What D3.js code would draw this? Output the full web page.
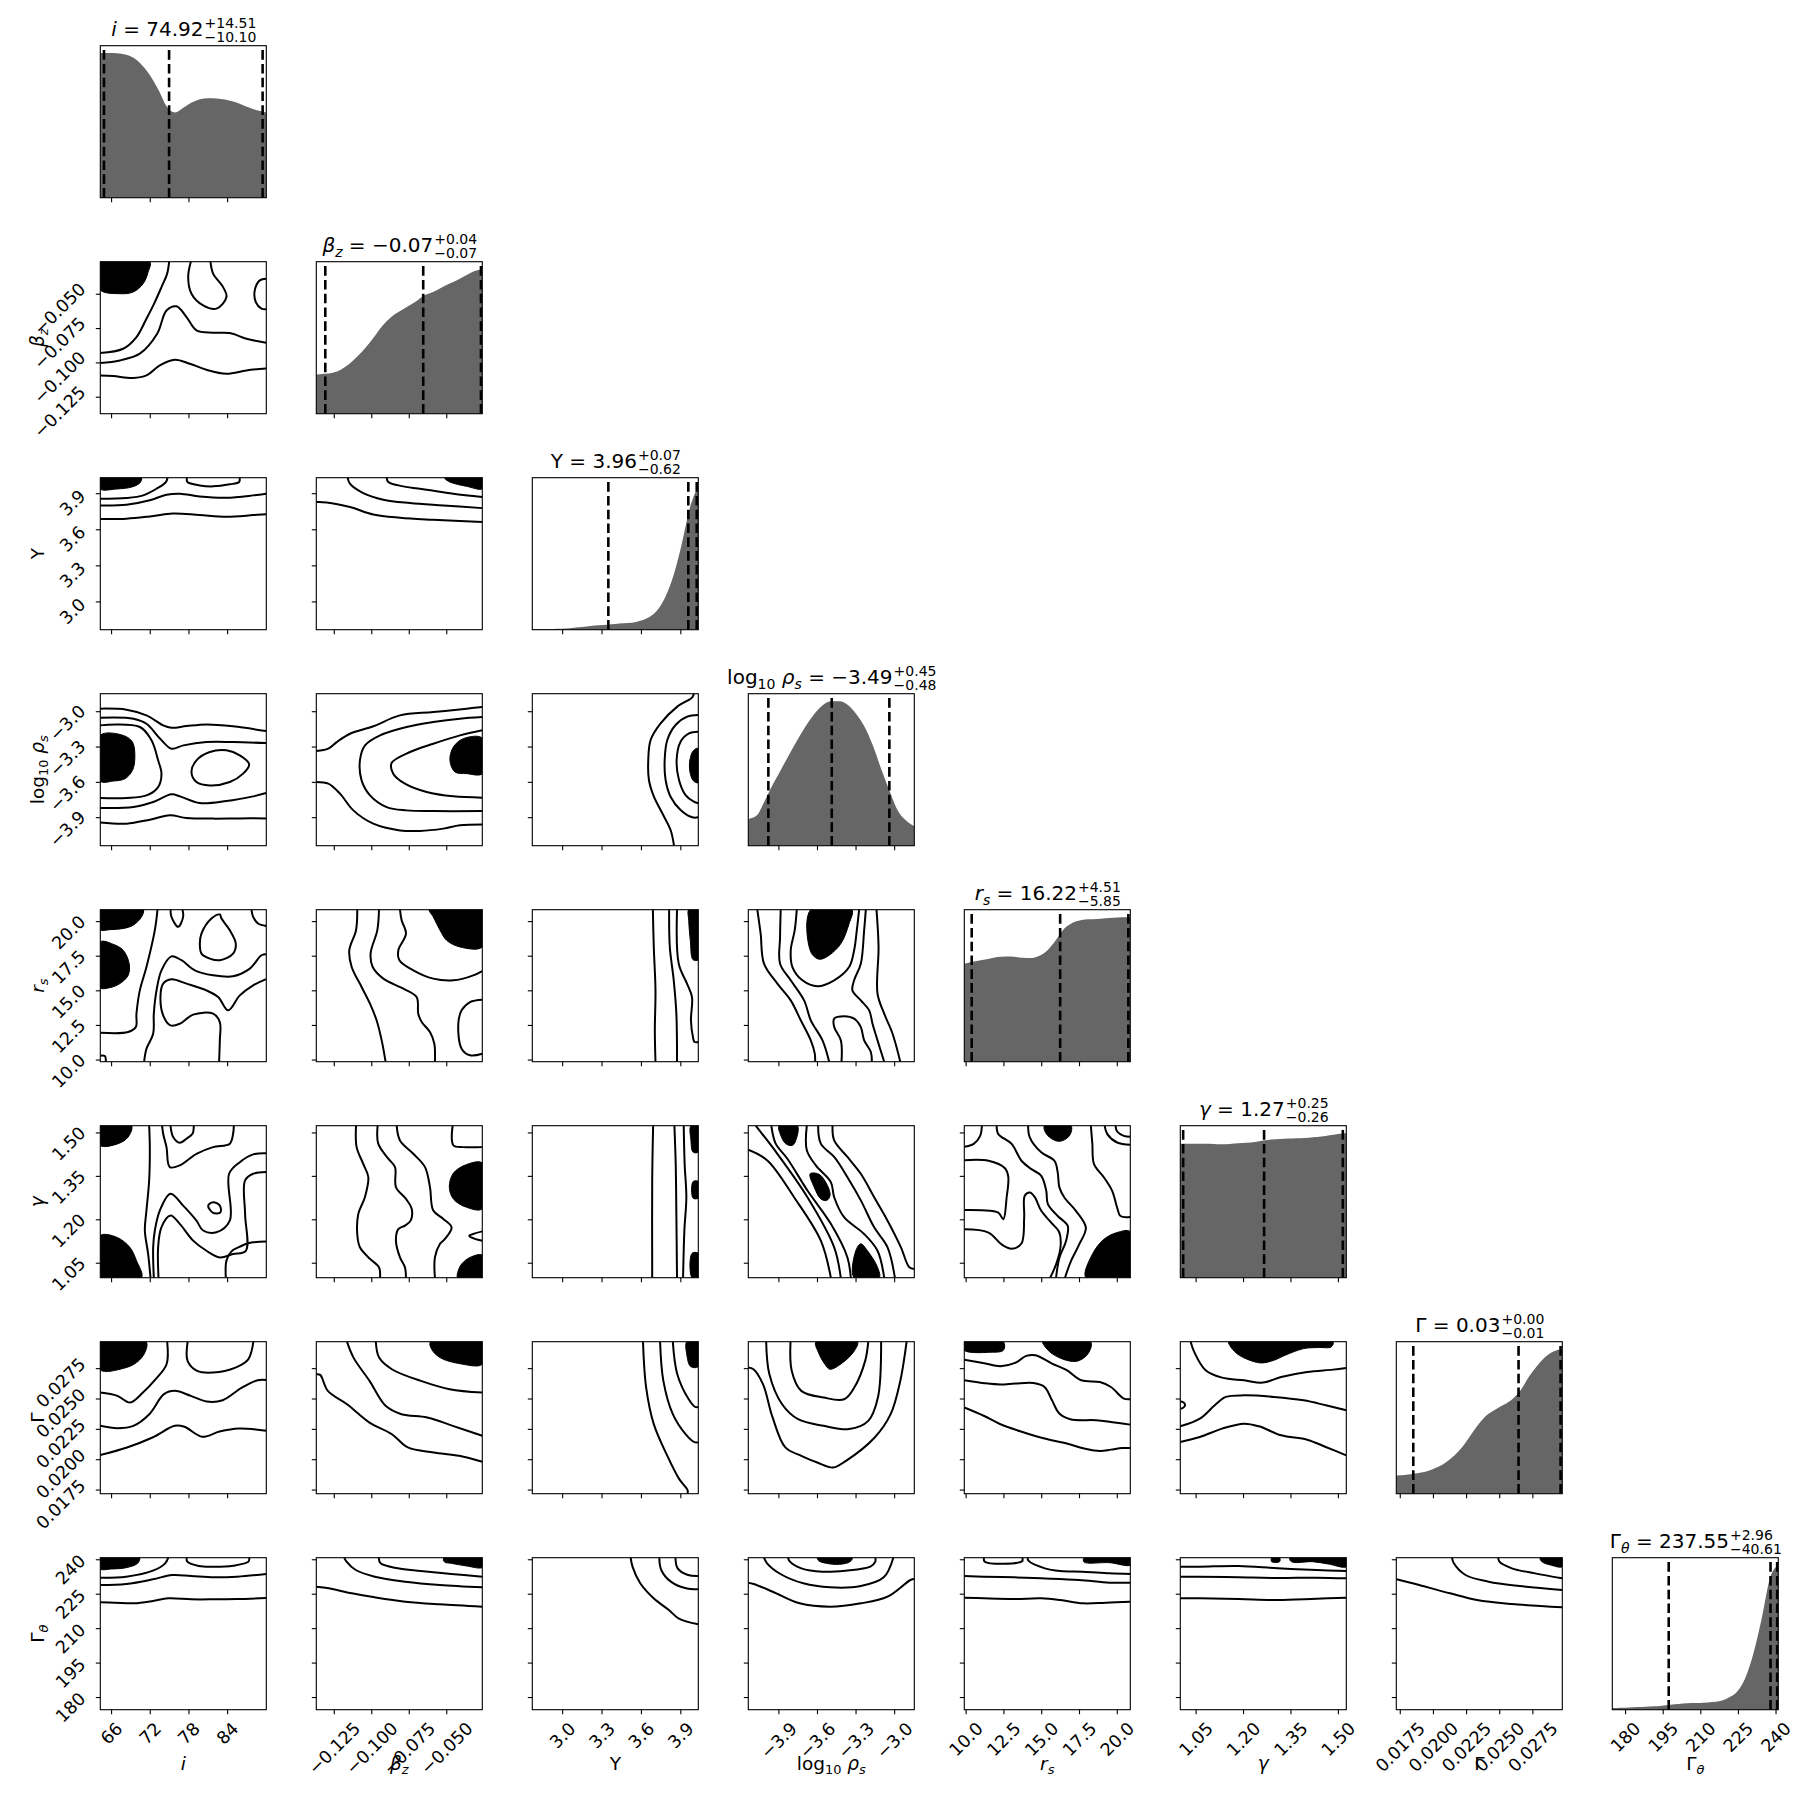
<!DOCTYPE html>
<html>
<head>
<meta charset="utf-8">
<script src="https://cdn.jsdelivr.net/npm/d3@7"></script>
<style>
  body { margin: 0; background: #fff; }
  text { font-family: "DejaVu Sans", sans-serif; fill: #000; }
</style>
</head>
<body>
<div id="chart"></div>
<script>
// ---- parameters (order of the corner plot) ----
const paramKeys = ["i", "beta", "Y", "rho", "r", "gamma", "G", "Gt"]
const paramRanges = [[64.25, 90.0], [-0.137, -0.0263], [2.769, 4.033], [-4.138, -2.847],
  [9.88, 20.86], [1.0, 1.525], [0.0172, 0.02972], [174.7, 240.9]]
const paramTicks = [
  [66, 72, 78, 84],
  [-0.125, -0.100, -0.075, -0.050],
  [3.0, 3.3, 3.6, 3.9],
  [-3.9, -3.6, -3.3, -3.0],
  [10.0, 12.5, 15.0, 17.5, 20.0],
  [1.05, 1.20, 1.35, 1.50],
  [0.0175, 0.0200, 0.0225, 0.0250, 0.0275],
  [180, 195, 210, 225, 240]
]
const paramTickLabels = [
  ["66", "72", "78", "84"],
  ["−0.125", "−0.100", "−0.075", "−0.050"],
  ["3.0", "3.3", "3.6", "3.9"],
  ["−3.9", "−3.6", "−3.3", "−3.0"],
  ["10.0", "12.5", "15.0", "17.5", "20.0"],
  ["1.05", "1.20", "1.35", "1.50"],
  ["0.0175", "0.0200", "0.0225", "0.0250", "0.0275"],
  ["180", "195", "210", "225", "240"]
]
// label pieces: [text, style] ; "i" italic, "s" italic subscript, "S" upright subscript
const paramLabels = [
  [["i", "i"]],
  [["β", "i"], ["z", "s"]],
  [["Y", ""]],
  [["log", ""], ["10", "S"], [" ", ""], ["ρ", "i"], ["s", "s"]],
  [["r", "i"], ["s", "s"]],
  [["γ", "i"]],
  [["Γ", ""]],
  [["Γ", ""], ["θ", "s"]]
]

// ---- 1D summaries ----
const titleValues = ["74.92", "−0.07", "3.96", "−3.49", "16.22", "1.27", "0.03", "237.55"]
const titlePlus = ["+14.51", "+0.04", "+0.07", "+0.45", "+4.51", "+0.25", "+0.00", "+2.96"]
const titleMinus = ["−10.10", "−0.07", "−0.62", "−0.48", "−5.85", "−0.26", "−0.01", "−40.61"]
const quantiles = [
  [64.82, 74.92, 89.43],
  [-0.131, -0.0657, -0.0272],
  [3.348, 3.957, 4.021],
  [-3.982, -3.489, -3.041],
  [10.37, 16.22, 20.73],
  [1.009, 1.265, 1.514],
  [0.01848, 0.02642, 0.02959],
  [197.2, 237.8, 240.45]
]

// ---- marginal histograms (relative height, evenly spaced across each range) ----
const histI = [1.0, 1.0, 0.998, 0.989, 0.966, 0.917, 0.844, 0.745, 0.630, 0.589, 0.621, 0.657, 0.680, 0.687, 0.685, 0.678, 0.664, 0.644, 0.621, 0.602, 0.589]
const histBeta = [0.271, 0.276, 0.283, 0.306, 0.345, 0.398, 0.460, 0.533, 0.609, 0.667, 0.706, 0.740, 0.775, 0.816, 0.839, 0.869, 0.897, 0.924, 0.954, 0.984, 0.998]
const histY = [0.005, 0.005, 0.005, 0.007, 0.009, 0.014, 0.018, 0.025, 0.030, 0.034, 0.039, 0.044, 0.048, 0.062, 0.085, 0.131, 0.223, 0.372, 0.591, 0.844, 0.993]
const histRho = [0.185, 0.208, 0.313, 0.428, 0.532, 0.637, 0.738, 0.833, 0.914, 0.972, 0.998, 0.998, 0.972, 0.910, 0.822, 0.694, 0.532, 0.382, 0.243, 0.174, 0.134]
const histR = [0.677, 0.691, 0.700, 0.711, 0.723, 0.727, 0.725, 0.718, 0.716, 0.730, 0.769, 0.838, 0.917, 0.958, 0.977, 0.984, 0.986, 0.991, 0.995, 0.998, 1.0]
const histGamma = [0.926, 0.926, 0.926, 0.926, 0.924, 0.921, 0.924, 0.928, 0.933, 0.938, 0.947, 0.954, 0.958, 0.961, 0.963, 0.965, 0.970, 0.975, 0.984, 0.993, 1.0]
const histG = [0.126, 0.129, 0.138, 0.147, 0.161, 0.184, 0.218, 0.264, 0.326, 0.407, 0.487, 0.547, 0.584, 0.616, 0.655, 0.717, 0.809, 0.885, 0.947, 0.984, 1.0]
const histGt = [0.012, 0.014, 0.016, 0.018, 0.021, 0.023, 0.028, 0.035, 0.039, 0.044, 0.046, 0.048, 0.053, 0.060, 0.083, 0.122, 0.215, 0.388, 0.630, 0.908, 1.0]
const histValues = [histI, histBeta, histY, histRho, histR, histGamma, histG, histGt]

// ---- 2D contours, points in data units [x param, y param] ----
const cBetaI = {
  fills: [[[64.23, -0.0263], [71.93, -0.0263], [71.67, -0.0338], [70.90, -0.0423], [69.35, -0.0484], [67.28, -0.0496], [64.23, -0.0467]]],
  lines: [
    [[74.93, -0.0263], [74.62, -0.0350], [73.74, -0.0448], [72.71, -0.0557], [71.41, -0.0678], [69.86, -0.0812], [67.80, -0.0897], [64.23, -0.0928]],
    [[78.29, -0.0263], [77.88, -0.0375], [78.39, -0.0496], [80.20, -0.0581], [82.27, -0.0605], [83.82, -0.0520], [83.30, -0.0448], [81.75, -0.0350], [81.34, -0.0263]],
    [[89.97, -0.0387], [88.99, -0.0399], [88.21, -0.0472], [88.37, -0.0557], [89.25, -0.0605], [89.97, -0.0610]],
    [[64.23, -0.1001], [67.28, -0.0982], [70.38, -0.0933], [73.07, -0.0788], [74.52, -0.0618], [76.07, -0.0588], [77.62, -0.0666], [79.17, -0.0763], [81.75, -0.0780], [84.34, -0.0783], [86.92, -0.0824], [89.97, -0.0853]],
    [[64.23, -0.1091], [66.25, -0.1096], [69.35, -0.1110], [71.41, -0.1091], [73.48, -0.1018], [75.81, -0.0977], [78.13, -0.1006], [80.72, -0.1050], [83.82, -0.1079], [86.92, -0.1055], [89.97, -0.1040]]
  ],
  loops: []
}
const cYI = {
  fills: [[[64.23, 4.033], [70.64, 4.033], [70.38, 3.989], [69.10, 3.955], [66.76, 3.939], [64.23, 3.939]]],
  lines: [
    [[74.68, 4.033], [74.42, 3.997], [72.96, 3.941], [70.90, 3.886], [68.32, 3.864], [64.23, 3.858]],
    [[77.67, 4.033], [77.77, 3.997], [79.67, 3.969], [81.76, 3.961], [84.34, 3.978], [85.78, 3.997], [85.88, 4.033]],
    [[64.23, 3.802], [68.32, 3.808], [71.93, 3.845], [74.52, 3.891], [76.59, 3.900], [79.67, 3.877], [83.82, 3.866], [87.96, 3.886], [89.97, 3.900]],
    [[64.23, 3.689], [68.32, 3.692], [71.93, 3.711], [75.55, 3.736], [79.67, 3.722], [83.82, 3.708], [87.96, 3.722], [89.97, 3.730]]
  ],
  loops: []
}
const cYBeta = {
  fills: [[[-0.0512, 4.033], [-0.0263, 4.033], [-0.0263, 3.941], [-0.0367, 3.961], [-0.0479, 3.997], [-0.0512, 4.025]]],
  lines: [
    [[-0.0901, 4.033], [-0.0890, 3.997], [-0.0790, 3.961], [-0.0634, 3.933], [-0.0457, 3.900], [-0.0263, 3.872]],
    [[-0.1161, 4.033], [-0.1146, 3.983], [-0.1057, 3.905], [-0.0923, 3.850], [-0.0745, 3.822], [-0.0523, 3.802], [-0.0263, 3.780]],
    [[-0.137, 3.830], [-0.1301, 3.827], [-0.1146, 3.789], [-0.0990, 3.727], [-0.0812, 3.700], [-0.0590, 3.683], [-0.0263, 3.664]]
  ],
  loops: []
}
const cRhoI = {
  fills: [[[64.23, -3.201], [67.80, -3.201], [69.24, -3.258], [69.61, -3.385], [69.24, -3.498], [68.07, -3.569], [66.25, -3.589], [64.23, -3.589]]],
  lines: [
    [[64.23, -3.116], [70.38, -3.130], [72.19, -3.243], [73.22, -3.413], [73.74, -3.526], [73.22, -3.640], [71.41, -3.711], [68.32, -3.733], [64.23, -3.733]],
    [[64.23, -2.974], [68.32, -2.983], [71.41, -3.031], [74.0, -3.116], [75.29, -3.136], [77.62, -3.122], [80.72, -3.108], [84.85, -3.124], [89.97, -3.164]],
    [[64.23, -3.051], [69.40, -3.059], [71.41, -3.102], [73.53, -3.229], [75.29, -3.314], [77.15, -3.286], [80.72, -3.258], [84.85, -3.258], [89.97, -3.266]],
    [[64.23, -3.818], [69.40, -3.810], [72.45, -3.767], [75.29, -3.702], [76.63, -3.719], [79.68, -3.776], [83.82, -3.759], [87.95, -3.719], [89.97, -3.691]],
    [[64.23, -3.940], [68.32, -3.951], [71.93, -3.917], [75.03, -3.880], [77.62, -3.903], [81.75, -3.908], [85.89, -3.906], [89.97, -3.906]]
  ],
  loops: [[[78.39, -3.512], [79.17, -3.413], [81.24, -3.342], [83.82, -3.328], [85.89, -3.371], [87.34, -3.447], [86.40, -3.526], [84.34, -3.597], [81.24, -3.626], [79.17, -3.597]]]
}
const cRhoBeta = {
  fills: [[[-0.0263, -3.224], [-0.0390, -3.229], [-0.0456, -3.300], [-0.0479, -3.413], [-0.0445, -3.512], [-0.0367, -3.526], [-0.0263, -3.526]]],
  lines: [
    [[-0.137, -3.334], [-0.129, -3.314], [-0.1234, -3.258], [-0.1145, -3.187], [-0.099, -3.124], [-0.0812, -3.031], [-0.059, -3.003], [-0.0367, -2.974], [-0.0263, -2.960]],
    [[-0.0263, -3.045], [-0.0412, -3.059], [-0.059, -3.088], [-0.0768, -3.130], [-0.0945, -3.201], [-0.1045, -3.286], [-0.1079, -3.413], [-0.1068, -3.583], [-0.1012, -3.710], [-0.0901, -3.810], [-0.0768, -3.838], [-0.059, -3.844], [-0.0263, -3.844]],
    [[-0.0263, -3.158], [-0.0412, -3.201], [-0.059, -3.272], [-0.0745, -3.342], [-0.0868, -3.436], [-0.0857, -3.526], [-0.0779, -3.611], [-0.0634, -3.682], [-0.0456, -3.719], [-0.0263, -3.730]],
    [[-0.137, -3.597], [-0.129, -3.611], [-0.1212, -3.696], [-0.1123, -3.838], [-0.099, -3.951], [-0.0812, -4.008], [-0.0679, -4.013], [-0.0523, -3.993], [-0.0412, -3.965], [-0.0263, -3.957]]
  ],
  loops: []
}
const cRhoY = {
  fills: [[[4.033, -3.311], [3.995, -3.331], [3.969, -3.410], [3.969, -3.509], [3.995, -3.586], [4.033, -3.603]]],
  lines: [
    [[3.999, -2.847], [3.987, -2.878], [3.873, -2.957], [3.746, -3.099], [3.670, -3.240], [3.652, -3.410], [3.657, -3.580], [3.695, -3.722], [3.759, -3.863], [3.822, -4.005], [3.848, -4.138]],
    [[4.033, -3.028], [3.949, -3.042], [3.860, -3.113], [3.797, -3.240], [3.777, -3.410], [3.784, -3.580], [3.822, -3.722], [3.898, -3.835], [3.987, -3.897], [4.033, -3.897]],
    [[4.033, -3.170], [3.962, -3.184], [3.898, -3.255], [3.868, -3.410], [3.886, -3.580], [3.936, -3.708], [3.999, -3.764], [4.033, -3.778]]
  ],
  loops: []
}
const cRI = {
  fills: [
    [[64.23, 20.87], [70.90, 20.87], [70.64, 20.34], [69.35, 19.74], [67.80, 19.50], [65.73, 19.42], [64.23, 19.42]],
    [[64.23, 18.53], [66.25, 18.36], [67.80, 17.93], [68.73, 16.96], [68.57, 16.12], [67.28, 15.52], [65.73, 15.23], [64.23, 15.23]]
  ],
  lines: [
    [[64.23, 10.31], [64.95, 10.29], [65.11, 9.88]],
    [[73.12, 20.87], [72.71, 19.38], [71.41, 16.72], [70.38, 15.03], [69.86, 13.35], [69.76, 12.38], [68.57, 12.02], [64.23, 11.97]],
    [[71.05, 9.88], [71.41, 10.82], [72.45, 11.90], [72.55, 13.35], [72.97, 15.03], [73.74, 16.48], [75.29, 17.49], [76.84, 17.21], [78.91, 16.48], [81.75, 16.12], [84.85, 16.05], [87.44, 16.60], [89.25, 17.57], [89.97, 17.64]],
    [[82.68, 9.88], [82.79, 11.42], [82.79, 12.74], [81.75, 13.35], [78.65, 13.28], [76.58, 12.62], [75.14, 12.50], [74.0, 13.23], [73.59, 14.67], [74.0, 15.52], [75.29, 15.83], [77.62, 15.52], [80.72, 15.03], [82.53, 14.55], [84.08, 13.59], [85.89, 14.67], [87.96, 15.40], [89.97, 15.85]],
    [[75.14, 20.87], [75.29, 20.34], [76.33, 19.62], [77.10, 20.34], [77.0, 20.87]],
    [[87.70, 20.87], [87.96, 20.34], [88.73, 19.86], [89.97, 19.69]]
  ],
  loops: [[[79.69, 18.41], [79.94, 19.13], [81.49, 20.22], [82.79, 20.51], [83.05, 20.22], [84.34, 19.38], [85.27, 18.41], [84.85, 17.69], [82.79, 17.21], [81.24, 17.33], [79.94, 17.69]]]
}
const cRBeta = {
  fills: [[[-0.0616, 20.87], [-0.0263, 20.87], [-0.0263, 18.17], [-0.0412, 18.17], [-0.0501, 18.65], [-0.0545, 19.38], [-0.0590, 20.34]]],
  lines: [
    [[-0.1097, 20.87], [-0.1105, 19.38], [-0.1150, 17.93], [-0.1134, 16.72], [-0.1068, 15.28], [-0.1012, 14.07], [-0.0968, 12.87], [-0.0934, 11.42], [-0.0908, 9.88]],
    [[-0.0952, 20.87], [-0.0963, 19.38], [-0.1008, 17.69], [-0.0994, 16.72], [-0.0923, 15.88], [-0.0790, 15.16], [-0.0701, 14.55], [-0.0690, 13.35], [-0.0667, 12.74], [-0.0612, 12.02], [-0.0583, 11.18], [-0.0579, 9.88]],
    [[-0.0812, 20.87], [-0.0801, 20.10], [-0.0772, 19.13], [-0.0823, 17.93], [-0.0816, 17.21], [-0.0723, 16.48], [-0.0590, 15.88], [-0.0456, 15.76], [-0.0323, 16.12], [-0.0263, 16.43]],
    [[-0.0263, 14.36], [-0.0345, 14.19], [-0.0401, 13.59], [-0.0423, 12.62], [-0.0401, 10.82], [-0.0345, 10.34], [-0.0263, 10.45]]
  ],
  loops: []
}
const cRY = {
  fills: [[[3.960, 20.87], [4.033, 20.87], [4.033, 17.25], [3.993, 17.25], [3.972, 18.65], [3.960, 20.10]]],
  lines: [
    [[3.687, 20.87], [3.694, 18.17], [3.707, 15.03], [3.702, 12.14], [3.707, 9.88]],
    [[3.811, 20.87], [3.816, 18.17], [3.846, 15.76], [3.866, 13.35], [3.871, 9.88]],
    [[3.871, 20.87], [3.884, 16.96], [3.947, 15.52], [3.985, 14.55], [3.977, 12.87], [3.992, 11.66], [4.005, 11.30], [4.033, 11.30]]
  ],
  loops: []
}
const cRRho = {
  fills: [[[-3.652, 20.87], [-3.333, 20.87], [-3.354, 19.86], [-3.418, 18.41], [-3.509, 17.57], [-3.587, 17.28], [-3.652, 17.81]]],
  lines: [
    [[-4.068, 20.87], [-4.042, 19.13], [-4.016, 16.96], [-3.912, 15.52], [-3.808, 14.31], [-3.730, 12.87], [-3.652, 11.42], [-3.621, 10.46], [-3.618, 9.88]],
    [[-3.886, 20.87], [-3.891, 18.89], [-3.891, 16.96], [-3.808, 15.76], [-3.704, 14.31], [-3.652, 12.87], [-3.561, 11.42], [-3.509, 9.88]],
    [[-3.761, 20.87], [-3.777, 19.38], [-3.808, 17.93], [-3.795, 16.72], [-3.717, 15.76], [-3.600, 15.33], [-3.470, 15.76], [-3.354, 16.72], [-3.315, 17.93], [-3.294, 19.38], [-3.276, 20.87]],
    [[-3.224, 20.87], [-3.237, 19.38], [-3.263, 16.96], [-3.315, 15.76], [-3.328, 15.03], [-3.263, 14.31], [-3.198, 13.59], [-3.172, 12.62], [-3.133, 11.42], [-3.081, 9.88]],
    [[-3.141, 20.87], [-3.125, 18.17], [-3.133, 14.79], [-3.081, 13.35], [-3.016, 11.90], [-2.956, 9.88]],
    [[-3.413, 9.88], [-3.418, 11.42], [-3.470, 12.38], [-3.470, 12.99], [-3.393, 13.16], [-3.315, 12.99], [-3.263, 12.38], [-3.237, 11.42], [-3.185, 10.58], [-3.177, 9.88]]
  ],
  loops: []
}
const cGammaI = {
  fills: [
    [[64.23, 1.525], [69.09, 1.525], [68.57, 1.486], [67.02, 1.463], [64.23, 1.457]],
    [[64.23, 1.145], [66.76, 1.140], [68.83, 1.105], [69.86, 1.059], [70.64, 1.0], [64.23, 1.0]]
  ],
  lines: [
    [[71.83, 1.525], [71.93, 1.451], [71.83, 1.336], [71.41, 1.232], [71.16, 1.163], [71.67, 1.082], [72.04, 1.0]],
    [[73.84, 1.525], [74.0, 1.497], [74.52, 1.451], [75.03, 1.382], [76.58, 1.388], [79.17, 1.428], [81.75, 1.451], [84.34, 1.463], [84.85, 1.497], [84.96, 1.525]],
    [[75.14, 1.525], [75.55, 1.486], [76.58, 1.466], [77.62, 1.480], [78.55, 1.497], [78.75, 1.525]],
    [[72.55, 1.0], [72.45, 1.105], [72.71, 1.163], [73.48, 1.232], [75.14, 1.290], [77.10, 1.249], [79.17, 1.197], [80.20, 1.163], [82.27, 1.157], [84.34, 1.197], [84.23, 1.359], [85.89, 1.399], [87.96, 1.426], [89.97, 1.430]],
    [[73.28, 1.0], [73.22, 1.105], [73.74, 1.175], [75.14, 1.215], [76.58, 1.186], [78.65, 1.128], [80.72, 1.093], [82.79, 1.070], [84.85, 1.082], [86.82, 1.093], [86.71, 1.220], [86.71, 1.336], [87.96, 1.359], [89.97, 1.365]],
    [[83.72, 1.0], [83.82, 1.059], [84.60, 1.091], [85.89, 1.107], [87.18, 1.119], [89.97, 1.125]]
  ],
  loops: [[[80.98, 1.249], [81.75, 1.261], [82.79, 1.249], [82.89, 1.226], [81.75, 1.224]]]
}
const cGammaBeta = {
  fills: [
    [[-0.0263, 1.396], [-0.0367, 1.391], [-0.0456, 1.361], [-0.0483, 1.313], [-0.0456, 1.272], [-0.0367, 1.243], [-0.0263, 1.238]],
    [[-0.0263, 1.078], [-0.0345, 1.070], [-0.0401, 1.047], [-0.0427, 1.018], [-0.0427, 1.0], [-0.0263, 1.0]]
  ],
  lines: [
    [[-0.0263, 1.160], [-0.0312, 1.153], [-0.0350, 1.145], [-0.0312, 1.134], [-0.0263, 1.128]],
    [[-0.0461, 1.525], [-0.0456, 1.457], [-0.0390, 1.451], [-0.0263, 1.451]],
    [[-0.1105, 1.525], [-0.1101, 1.451], [-0.1057, 1.393], [-0.1023, 1.347], [-0.1046, 1.278], [-0.1090, 1.220], [-0.1097, 1.151], [-0.1079, 1.105], [-0.1012, 1.065], [-0.0952, 1.036], [-0.0945, 1.0]],
    [[-0.0961, 1.525], [-0.0957, 1.463], [-0.0890, 1.411], [-0.0845, 1.382], [-0.0839, 1.313], [-0.0772, 1.272], [-0.0734, 1.238], [-0.0741, 1.197], [-0.0779, 1.180], [-0.0823, 1.168], [-0.0839, 1.128], [-0.0812, 1.070], [-0.0779, 1.036], [-0.0772, 1.0]],
    [[-0.0834, 1.525], [-0.0812, 1.474], [-0.0723, 1.428], [-0.0645, 1.382], [-0.0612, 1.313], [-0.0590, 1.232], [-0.0523, 1.203], [-0.0468, 1.174], [-0.0512, 1.134], [-0.0545, 1.117], [-0.0579, 1.070], [-0.0579, 1.0]]
  ],
  loops: []
}
const cGammaY = {
  fills: [
    [[3.977, 1.525], [4.033, 1.525], [4.033, 1.434], [3.993, 1.434], [3.977, 1.474]],
    [[3.993, 1.332], [4.033, 1.332], [4.033, 1.275], [3.993, 1.275]],
    [[3.985, 1.084], [4.033, 1.084], [4.033, 1.0], [3.985, 1.0]]
  ],
  lines: [
    [[3.689, 1.525], [3.682, 1.336], [3.682, 1.0]],
    [[3.851, 1.525], [3.861, 1.393], [3.866, 1.220], [3.871, 1.0]],
    [[3.922, 1.525], [3.929, 1.393], [3.942, 1.278], [3.927, 1.163], [3.917, 1.0]]
  ],
  loops: []
}
const cGammaRho = {
  fills: [
    [[-3.899, 1.525], [-3.756, 1.525], [-3.769, 1.474], [-3.795, 1.457], [-3.847, 1.463], [-3.886, 1.492]],
    [[-3.657, 1.359], [-3.587, 1.357], [-3.522, 1.318], [-3.502, 1.284], [-3.528, 1.267], [-3.574, 1.272], [-3.626, 1.313]],
    [[-3.315, 1.0], [-3.302, 1.093], [-3.263, 1.117], [-3.211, 1.093], [-3.133, 1.036], [-3.120, 1.0]]
  ],
  lines: [
    [[-4.138, 1.442], [-3.990, 1.405], [-3.782, 1.278], [-3.574, 1.128], [-3.496, 1.0]],
    [[-4.081, 1.525], [-3.912, 1.428], [-3.678, 1.278], [-3.470, 1.105], [-3.419, 1.0]],
    [[-3.959, 1.525], [-3.925, 1.463], [-3.834, 1.411], [-3.678, 1.301], [-3.496, 1.186], [-3.367, 1.070], [-3.341, 1.0]],
    [[-3.683, 1.525], [-3.683, 1.440], [-3.613, 1.388], [-3.496, 1.330], [-3.470, 1.278], [-3.393, 1.209], [-3.237, 1.151], [-3.133, 1.093], [-3.081, 1.0]],
    [[-3.595, 1.525], [-3.574, 1.463], [-3.470, 1.417], [-3.367, 1.347], [-3.263, 1.267], [-3.159, 1.174], [-3.055, 1.105], [-2.998, 1.0]],
    [[-3.483, 1.525], [-3.470, 1.474], [-3.367, 1.417], [-3.263, 1.359], [-3.159, 1.278], [-3.055, 1.197], [-2.951, 1.105], [-2.886, 1.036], [-2.847, 1.030]]
  ],
  loops: []
}
const cGammaR = {
  fills: [
    [[15.19, 1.525], [16.94, 1.525], [16.83, 1.490], [16.17, 1.471], [15.52, 1.485], [15.19, 1.508]],
    [[17.92, 1.0], [18.35, 1.081], [19.12, 1.133], [19.99, 1.156], [20.86, 1.159], [20.86, 1.0]]
  ],
  lines: [
    [[9.88, 1.452], [10.50, 1.462], [10.93, 1.490], [11.04, 1.525]],
    [[9.88, 1.406], [11.48, 1.404], [12.57, 1.378], [12.79, 1.348], [12.68, 1.277], [12.46, 1.202], [12.13, 1.225], [11.04, 1.233], [9.88, 1.234]],
    [[9.88, 1.167], [11.48, 1.156], [12.35, 1.115], [13.01, 1.100], [13.66, 1.118], [13.84, 1.208], [13.88, 1.283], [14.21, 1.294], [14.53, 1.279], [14.97, 1.231], [15.63, 1.190], [16.17, 1.156], [16.24, 1.104], [15.95, 1.046], [15.56, 1.0]],
    [[12.02, 1.525], [12.13, 1.496], [13.01, 1.462], [13.66, 1.404], [14.32, 1.375], [14.97, 1.352], [15.30, 1.300], [15.41, 1.254], [16.06, 1.213], [16.72, 1.179], [16.61, 1.127], [16.17, 1.069], [15.95, 1.0]],
    [[14.10, 1.525], [14.21, 1.485], [14.97, 1.433], [15.84, 1.404], [16.06, 1.363], [16.17, 1.312], [16.50, 1.277], [17.26, 1.231], [17.92, 1.173], [17.48, 1.115], [16.94, 1.058], [16.54, 1.0]],
    [[18.25, 1.525], [18.35, 1.462], [18.46, 1.392], [19.12, 1.346], [19.66, 1.300], [19.99, 1.242], [20.21, 1.213], [20.86, 1.210]],
    [[19.16, 1.525], [19.34, 1.496], [19.99, 1.467], [20.86, 1.459]],
    [[19.88, 1.525], [19.99, 1.505], [20.43, 1.490], [20.86, 1.487]]
  ],
  loops: []
}
const cGI = {
  fills: [[[64.23, 0.0297], [71.36, 0.0297], [71.16, 0.02882], [69.87, 0.02800], [67.89, 0.02753], [64.23, 0.02740]]],
  lines: [
    [[74.63, 0.0297], [74.53, 0.02786], [72.84, 0.02663], [70.86, 0.02553], [68.88, 0.02471], [66.90, 0.02526], [64.23, 0.02553]],
    [[77.79, 0.0297], [77.79, 0.02814], [79.28, 0.02731], [81.75, 0.02718], [85.22, 0.02759], [87.20, 0.02827], [87.99, 0.0297]],
    [[64.23, 0.02279], [66.90, 0.02260], [69.38, 0.02279], [71.85, 0.02375], [74.13, 0.02540], [75.81, 0.02567], [78.29, 0.02526], [80.76, 0.02479], [83.24, 0.02490], [86.21, 0.02594], [88.68, 0.02655], [89.97, 0.02657]],
    [[64.23, 0.02038], [68.39, 0.02101], [72.35, 0.02183], [75.81, 0.02279], [77.30, 0.02271], [80.07, 0.02189], [82.74, 0.02232], [85.71, 0.02257], [89.97, 0.02238]]
  ],
  loops: []
}
const cGBeta = {
  fills: [[[-0.0609, 0.0297], [-0.0263, 0.0297], [-0.0263, 0.02786], [-0.0417, 0.02792], [-0.0545, 0.02841], [-0.0601, 0.02910]]],
  lines: [
    [[-0.0973, 0.0297], [-0.0951, 0.02841], [-0.0866, 0.02745], [-0.0673, 0.02649], [-0.0481, 0.02581], [-0.0263, 0.02553]],
    [[-0.1165, 0.0297], [-0.1122, 0.02841], [-0.1015, 0.02649], [-0.0908, 0.02444], [-0.0802, 0.02375], [-0.0631, 0.02348], [-0.0460, 0.02279], [-0.0263, 0.02197]],
    [[-0.137, 0.02704], [-0.1344, 0.02699], [-0.1293, 0.02567], [-0.1165, 0.02457], [-0.1015, 0.02306], [-0.0866, 0.02210], [-0.0759, 0.02101], [-0.0588, 0.02060], [-0.0417, 0.02032], [-0.0263, 0.01983]]
  ],
  loops: []
}
const cGY = {
  fills: [[[3.945, 0.0297], [4.033, 0.0297], [4.033, 0.02767], [3.975, 0.02767], [3.945, 0.02869]]],
  lines: [
    [[3.612, 0.0297], [3.636, 0.02594], [3.694, 0.02293], [3.791, 0.02046], [3.888, 0.01840], [3.951, 0.01750], [3.951, 0.01717]],
    [[3.742, 0.0297], [3.767, 0.02649], [3.839, 0.02375], [3.936, 0.02210], [3.999, 0.02147], [4.033, 0.02142]],
    [[3.839, 0.0297], [3.873, 0.02704], [3.960, 0.02498], [4.009, 0.02435], [4.033, 0.02435]]
  ],
  loops: []
}
const cGRho = {
  fills: [[[-3.612, 0.0297], [-3.289, 0.0297], [-3.314, 0.02896], [-3.403, 0.02800], [-3.503, 0.02745], [-3.542, 0.02786], [-3.592, 0.02882]]],
  lines: [
    [[-3.810, 0.0297], [-3.800, 0.02731], [-3.726, 0.02567], [-3.552, 0.02512], [-3.393, 0.02498], [-3.314, 0.02594], [-3.229, 0.02814], [-3.205, 0.0297]],
    [[-3.999, 0.0297], [-3.974, 0.02704], [-3.875, 0.02457], [-3.751, 0.02334], [-3.552, 0.02279], [-3.354, 0.02252], [-3.205, 0.02320], [-3.130, 0.02512], [-3.105, 0.0297]],
    [[-4.138, 0.02759], [-4.098, 0.02745], [-4.024, 0.02622], [-3.949, 0.02348], [-3.850, 0.02101], [-3.726, 0.02032], [-3.602, 0.01977], [-3.478, 0.01936], [-3.378, 0.01991], [-3.155, 0.02183], [-3.031, 0.02375], [-2.956, 0.02649], [-2.907, 0.0297]]
  ],
  loops: []
}
const cGR = {
  fills: [
    [[9.88, 0.0297], [12.47, 0.0297], [12.47, 0.02902], [11.61, 0.02885], [9.88, 0.02902]],
    [[15.07, 0.0297], [18.24, 0.0297], [18.07, 0.02874], [17.39, 0.02813], [16.66, 0.02818], [15.68, 0.02874], [15.15, 0.02943]]
  ],
  lines: [
    [[9.88, 0.02823], [11.2, 0.02794], [12.27, 0.02770], [13.24, 0.02797], [13.98, 0.02855], [14.58, 0.02860], [15.68, 0.02792], [16.66, 0.02737], [17.63, 0.02654], [18.85, 0.02640], [19.58, 0.02599], [20.43, 0.02503], [20.86, 0.02498]],
    [[9.88, 0.02654], [11.2, 0.02630], [12.27, 0.02619], [13.24, 0.02627], [14.46, 0.02632], [15.19, 0.02599], [15.68, 0.02489], [16.17, 0.02380], [16.89, 0.02333], [18.61, 0.02325], [19.58, 0.02311], [20.86, 0.02289]],
    [[9.88, 0.02430], [11.2, 0.02360], [12.27, 0.02292], [13.73, 0.02228], [15.19, 0.02174], [16.66, 0.02133], [17.87, 0.02091], [18.85, 0.02072], [19.58, 0.02083], [20.31, 0.02096], [20.86, 0.02096]]
  ],
  loops: []
}
const cGGamma = {
  fills: [[[1.153, 0.0297], [1.483, 0.0297], [1.477, 0.02929], [1.436, 0.02924], [1.390, 0.02915], [1.331, 0.02860], [1.296, 0.02819], [1.255, 0.02797], [1.214, 0.02825], [1.179, 0.02874], [1.156, 0.02943]]],
  lines: [
    [[1.033, 0.0297], [1.044, 0.02888], [1.080, 0.02737], [1.132, 0.02676], [1.202, 0.02654], [1.261, 0.02635], [1.319, 0.02681], [1.401, 0.02723], [1.483, 0.02742], [1.525, 0.02756]],
    [[1.0, 0.02275], [1.062, 0.02338], [1.109, 0.02448], [1.144, 0.02517], [1.202, 0.02530], [1.296, 0.02517], [1.390, 0.02489], [1.460, 0.02448], [1.525, 0.02407]],
    [[1.0, 0.02146], [1.062, 0.02187], [1.132, 0.02256], [1.202, 0.02297], [1.249, 0.02275], [1.319, 0.02201], [1.401, 0.02165], [1.460, 0.02105], [1.525, 0.02036]]
  ],
  loops: [[[0.998, 0.02476], [1.010, 0.02472], [1.015, 0.02452], [1.010, 0.02430], [0.998, 0.02424]]]
}
const cGtI = {
  fills: [[[64.23, 240.9], [70.34, 240.9], [70.04, 238.45], [68.26, 236.56], [65.89, 235.98], [64.23, 235.98]]],
  lines: [
    [[64.23, 232.20], [68.26, 232.64], [72.41, 235.25], [74.31, 238.45], [74.79, 240.9]],
    [[77.63, 240.9], [77.75, 239.17], [79.53, 237.29], [81.90, 236.99], [84.87, 237.43], [87.24, 239.17], [87.36, 240.9]],
    [[64.23, 229.01], [68.26, 229.45], [72.41, 231.48], [75.38, 233.37], [78.35, 232.93], [81.90, 232.35], [85.46, 232.64], [89.97, 233.80]],
    [[64.23, 221.46], [66.48, 221.32], [69.45, 221.03], [72.41, 222.04], [74.79, 223.20], [78.35, 222.77], [81.90, 222.77], [85.46, 222.91], [89.97, 223.35]]
  ],
  loops: []
}
const cGtBeta = {
  fills: [[[-0.0520, 240.9], [-0.0263, 240.9], [-0.0263, 236.71], [-0.0367, 237.29], [-0.0470, 238.45], [-0.0515, 239.03]]],
  lines: [
    [[-0.0954, 240.9], [-0.0941, 238.45], [-0.0827, 236.27], [-0.0674, 235.11], [-0.0470, 233.80], [-0.0263, 232.64]],
    [[-0.1184, 240.9], [-0.1171, 239.46], [-0.1107, 235.54], [-0.0980, 232.64], [-0.0776, 230.46], [-0.0546, 229.01], [-0.0263, 228.0]],
    [[-0.137, 228.28], [-0.1286, 227.56], [-0.1133, 225.38], [-0.0980, 223.64], [-0.0776, 221.75], [-0.0546, 220.59], [-0.0263, 219.57]]
  ],
  loops: []
}
const cGtY = {
  fills: [],
  lines: [
    [[3.518, 240.9], [3.532, 236.99], [3.591, 229.74], [3.693, 223.20], [3.809, 218.12], [3.882, 214.50], [4.033, 211.88]],
    [[3.736, 240.9], [3.751, 235.54], [3.824, 230.46], [3.940, 227.56], [4.033, 227.13]],
    [[3.859, 240.9], [3.876, 236.27], [3.955, 233.37], [4.033, 232.93]]
  ],
  loops: []
}
const cGtRho = {
  fills: [[[-3.600, 240.9], [-3.329, 240.9], [-3.347, 239.17], [-3.427, 238.01], [-3.531, 238.45], [-3.591, 239.6]]],
  lines: [
    [[-3.829, 240.9], [-3.814, 239.17], [-3.725, 236.27], [-3.561, 234.8], [-3.382, 235.25], [-3.189, 236.99], [-3.150, 239.17], [-3.150, 240.9]],
    [[-4.016, 240.9], [-3.992, 238.45], [-3.888, 233.80], [-3.710, 229.74], [-3.501, 228.0], [-3.263, 228.56], [-3.085, 232.35], [-3.010, 240.9]],
    [[-4.138, 230.03], [-4.096, 229.45], [-3.948, 226.09], [-3.739, 221.03], [-3.501, 219.57], [-3.263, 221.03], [-3.055, 223.93], [-2.877, 231.19], [-2.847, 231.62]]
  ],
  loops: []
}
const cGtR = {
  fills: [[[17.80, 240.9], [20.86, 240.9], [20.86, 237.72], [19.49, 238.74], [17.80, 239.03]]],
  lines: [
    [[11.18, 240.9], [11.23, 239.17], [13.70, 239.31], [13.72, 240.9]],
    [[14.07, 240.9], [14.12, 239.6], [15.21, 236.27], [16.22, 235.11], [17.73, 234.81], [19.49, 234.08], [20.86, 233.80]],
    [[9.88, 232.93], [11.18, 232.64], [13.19, 232.35], [14.96, 231.91], [17.47, 231.19], [19.49, 230.03], [20.86, 230.03]],
    [[9.88, 223.49], [11.18, 223.20], [13.19, 222.91], [14.96, 223.20], [16.22, 222.48], [17.73, 221.03], [19.24, 221.32], [20.86, 221.75]]
  ],
  loops: []
}
const cGtGamma = {
  fills: [
    [[1.289, 240.9], [1.314, 240.9], [1.314, 239.17], [1.289, 239.17]],
    [[1.347, 240.9], [1.525, 240.9], [1.525, 236.99], [1.468, 238.16], [1.418, 239.17], [1.357, 238.88], [1.347, 239.75]]
  ],
  lines: [
    [[1.0, 237.0], [1.062, 236.99], [1.185, 237.28], [1.308, 236.27], [1.431, 235.54], [1.525, 235.11]],
    [[1.0, 232.64], [1.062, 232.64], [1.185, 232.35], [1.308, 232.06], [1.431, 232.2], [1.525, 231.91]],
    [[1.0, 223.2], [1.062, 223.20], [1.185, 222.91], [1.308, 222.48], [1.431, 223.06], [1.525, 223.49]]
  ],
  loops: []
}
const cGtG = {
  fills: [[[0.02804, 240.9], [0.0297, 240.9], [0.0297, 236.99], [0.02883, 237.72], [0.02818, 239.17]]],
  lines: [
    [[0.02489, 240.9], [0.02498, 239.17], [0.02591, 236.27], [0.02766, 234.08], [0.0297, 231.91]],
    [[0.02140, 240.9], [0.02154, 238.45], [0.02242, 233.37], [0.02416, 230.46], [0.02650, 228.56], [0.0297, 226.82]],
    [[0.01722, 231.48], [0.01892, 229.01], [0.02125, 225.38], [0.02329, 222.48], [0.02591, 220.74], [0.0297, 219.29]]
  ],
  loops: []
}
// [row, col, contours]
const contourPanels = [
  [1, 0, cBetaI],
  [2, 0, cYI], [2, 1, cYBeta],
  [3, 0, cRhoI], [3, 1, cRhoBeta], [3, 2, cRhoY],
  [4, 0, cRI], [4, 1, cRBeta], [4, 2, cRY], [4, 3, cRRho],
  [5, 0, cGammaI], [5, 1, cGammaBeta], [5, 2, cGammaY], [5, 3, cGammaRho], [5, 4, cGammaR],
  [6, 0, cGI], [6, 1, cGBeta], [6, 2, cGY], [6, 3, cGRho], [6, 4, cGR], [6, 5, cGGamma],
  [7, 0, cGtI], [7, 1, cGtBeta], [7, 2, cGtY], [7, 3, cGtRho], [7, 4, cGtR], [7, 5, cGtGamma], [7, 6, cGtG]
]

// ---- layout ----
const size = 1809
const left0 = 100.3, top0 = 45.7, step = 216
const panelW = 166, panelH = 152
const tickLen = 4.5
const tickFont = 17.5, labelFont = 18.5, titleFont = 20, scriptFont = 14
const histTop = 1.05

const svg = d3.select("#chart").append("svg")
  .attr("width", size).attr("height", size)
  .style("background", "#fff")
const defs = svg.append("defs")

const xScales = paramRanges.map((d, k) => d3.scaleLinear().domain(d).range([left0 + k * step, left0 + k * step + panelW]))
const yScales = paramRanges.map((d, k) => d3.scaleLinear().domain(d).range([top0 + k * step + panelH, top0 + k * step]))

/**
 * Writes math-like text (italic letters, subscripts) into a text element.
 */
const addRich = (sel, segs, fs) => {
  let shift = 0
  segs.forEach(([t, st]) => {
    const sub = st === "s" || st === "S"
    const ts = sel.append("tspan").text(t)
      .style("font-style", (st === "i" || st === "s") ? "italic" : "normal")
      .style("font-size", (sub ? fs * 0.7 : fs) + "px")
    const target = sub ? fs * 0.24 : 0
    if (target !== shift) {
      ts.attr("dy", target - shift)
      shift = target
    }
  })
}

const panelGroup = (row, col) => {
  const x0 = left0 + col * step, y0 = top0 + row * step
  const id = "clip" + row + "_" + col
  defs.append("clipPath").attr("id", id).append("rect")
    .attr("x", x0).attr("y", y0).attr("width", panelW).attr("height", panelH)
  const g = svg.append("g")
  const inner = g.append("g").attr("clip-path", "url(#" + id + ")")
  return {g, inner, x0, y0}
}

const drawAxes = (g, row, col, x0, y0) => {
  // x ticks
  paramTicks[col].forEach((t, j) => {
    const x = xScales[col](t)
    g.append("line").attr("x1", x).attr("x2", x)
      .attr("y1", y0 + panelH).attr("y2", y0 + panelH + tickLen)
      .attr("stroke", "#000").attr("stroke-width", 1.1)
    if (row === paramKeys.length - 1) {
      const txt = g.append("text").attr("text-anchor", "middle")
        .attr("dominant-baseline", "central")
        .style("font-size", tickFont + "px")
        .text(paramTickLabels[col][j])
      const w = txt.node().getComputedTextLength()
      const cy = y0 + panelH + 9 + (w + tickFont * 1.1) / (2 * Math.SQRT2)
      txt.attr("transform", `translate(${x},${cy}) rotate(-45)`)
    }
  })
  // y ticks
  if (row !== col) {
    paramTicks[row].forEach((t, j) => {
      const y = yScales[row](t)
      g.append("line").attr("x1", x0 - tickLen).attr("x2", x0)
        .attr("y1", y).attr("y2", y)
        .attr("stroke", "#000").attr("stroke-width", 1.1)
      if (col === 0) {
        const txt = g.append("text").attr("text-anchor", "middle")
          .attr("dominant-baseline", "central")
          .style("font-size", tickFont + "px")
          .text(paramTickLabels[row][j])
        const w = txt.node().getComputedTextLength()
        const cx = x0 - 11 - (w + tickFont * 1.1) / (2 * Math.SQRT2)
        const cy = y + 5 + 0.15 * w
        txt.attr("transform", `translate(${cx},${cy}) rotate(-45)`)
      }
    })
  }
  g.append("rect").attr("x", x0).attr("y", y0)
    .attr("width", panelW).attr("height", panelH)
    .attr("fill", "none").attr("stroke", "#000").attr("stroke-width", 1.1)
}

// ---- diagonal: histograms ----
paramKeys.forEach((key, k) => {
  const {g, inner, x0, y0} = panelGroup(k, k)
  const xs = xScales[k]
  const ys = d3.scaleLinear().domain([0, histTop]).range([y0 + panelH, y0])
  const vals = histValues[k]
  const [lo, hi] = paramRanges[k]
  const pts = vals.map((v, j) => [lo + j * (hi - lo) / (vals.length - 1), v])
  inner.append("path").datum(pts)
    .attr("d", d3.area().x(d => xs(d[0])).y0(ys(0)).y1(d => ys(d[1])).curve(d3.curveMonotoneX))
    .attr("fill", "#666666")
  quantiles[k].forEach(q => {
    inner.append("line").attr("x1", xs(q)).attr("x2", xs(q))
      .attr("y1", y0 + panelH).attr("y2", y0)
      .attr("stroke", "#000").attr("stroke-width", 2.6)
      .attr("stroke-dasharray", "9.6,4.2")
  })
  drawAxes(g, k, k, x0, y0)

  // title: "name = value" with stacked +/- errors
  const base = y0 - 10
  const main = g.append("text").attr("y", base).style("font-size", titleFont + "px")
  addRich(main, paramLabels[k].concat([[" = " + titleValues[k], ""]]), titleFont)
  const sup = g.append("text").attr("y", base - 7.5).style("font-size", scriptFont + "px").text(titlePlus[k])
  const sub = g.append("text").attr("y", base + 6.5).style("font-size", scriptFont + "px").text(titleMinus[k])
  const mw = main.node().getComputedTextLength()
  const sw = Math.max(sup.node().getComputedTextLength(), sub.node().getComputedTextLength())
  const start = x0 + panelW / 2 - (mw + sw) / 2
  main.attr("x", start)
  main.select("tspan").attr("x", start)
  sup.attr("x", start + mw + 1)
  sub.attr("x", start + mw + 1)
})

// ---- off-diagonal: contours ----
contourPanels.forEach(([row, col, c]) => {
  const {g, inner, x0, y0} = panelGroup(row, col)
  const xs = xScales[col], ys = yScales[row]
  const openLine = d3.line().x(d => xs(d[0])).y(d => ys(d[1])).curve(d3.curveCatmullRom.alpha(0.5))
  const closedLine = d3.line().x(d => xs(d[0])).y(d => ys(d[1])).curve(d3.curveCatmullRomClosed.alpha(0.5))
  c.fills.forEach(p => {
    inner.append("path").attr("d", closedLine(p)).attr("fill", "#000").attr("stroke", "#000").attr("stroke-width", 1)
  })
  c.lines.forEach(p => {
    inner.append("path").attr("d", openLine(p)).attr("fill", "none")
      .attr("stroke", "#000").attr("stroke-width", 2).attr("stroke-linejoin", "round")
  })
  c.loops.forEach(p => {
    inner.append("path").attr("d", closedLine(p)).attr("fill", "none")
      .attr("stroke", "#000").attr("stroke-width", 2)
  })
  drawAxes(g, row, col, x0, y0)
})

// ---- axis labels ----
paramKeys.forEach((key, k) => {
  // x labels under the bottom row
  const lx = svg.append("text").attr("x", left0 + k * step + panelW / 2).attr("y", 1770)
    .attr("text-anchor", "middle").style("font-size", labelFont + "px")
  addRich(lx, paramLabels[k], labelFont)
  // y labels left of the first column
  if (k > 0) {
    const cy = top0 + k * step + panelH / 2
    const ly = svg.append("text").attr("transform", `translate(44,${cy}) rotate(-90)`)
      .attr("text-anchor", "middle").style("font-size", labelFont + "px")
    addRich(ly, paramLabels[k], labelFont)
  }
})
</script>
</body>
</html>
